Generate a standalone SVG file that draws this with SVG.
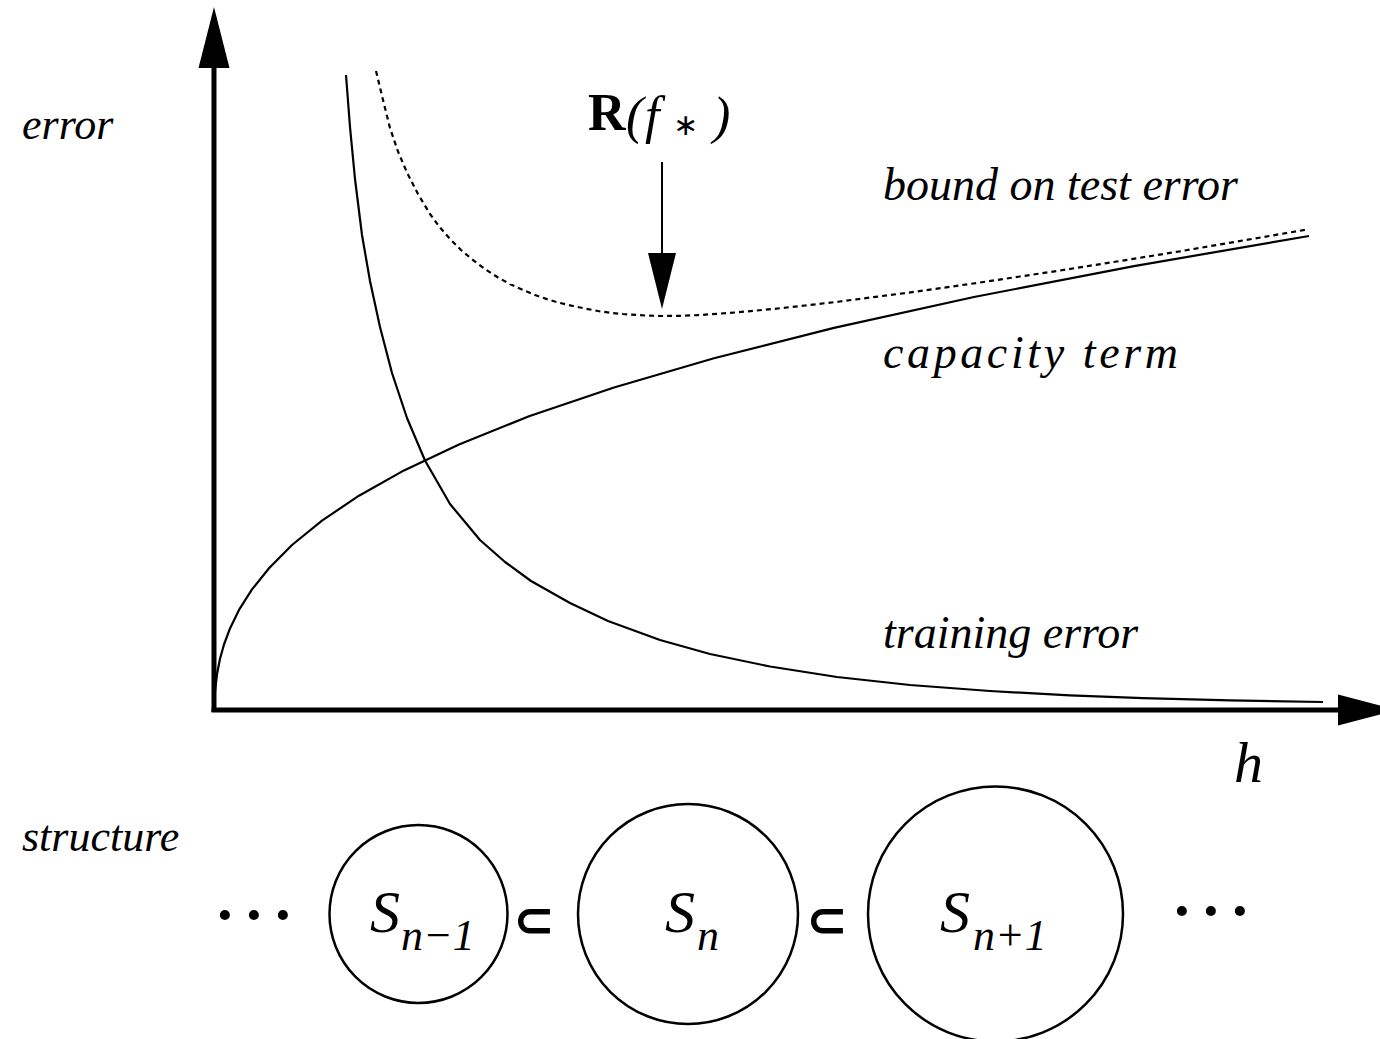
<svg xmlns="http://www.w3.org/2000/svg" width="1380" height="1039" viewBox="0 0 1380 1039">
<style>
.axis{stroke:#000;stroke-width:5;fill:none}
.head{fill:#000;stroke:none}
.curve{stroke:#000;stroke-width:2.2;fill:none;stroke-linejoin:round;stroke-linecap:butt}
.dash{stroke-dasharray:5 4}
.lbl{font-family:"Liberation Serif","Times New Roman",serif;font-style:italic;font-size:44px;fill:#000}
.lbr{font-family:"Liberation Serif","Times New Roman",serif;font-style:italic;font-size:46px;fill:#000}
.set{fill:none;stroke:#000;stroke-width:2.5}
.sym{font-family:"Liberation Serif","Times New Roman",serif;font-style:italic;fill:#000}
.op{font-family:"DejaVu Sans",sans-serif;font-weight:bold;fill:#000}
.dots{font-family:"Liberation Serif","Times New Roman",serif;font-size:85px;letter-spacing:7.75px;fill:#000}
</style>
<rect width="1380" height="1039" fill="#fff"/>
<g id="axes">
  <line class="axis" x1="214" y1="712" x2="214" y2="66"/>
  <polygon class="head" points="214,7 198.5,68 229.5,68"/>
  <line class="axis" x1="211.5" y1="710" x2="1340" y2="710"/>
  <polygon class="head" points="1338,694.5 1338,725.5 1397,710"/>
</g>
<g id="connectors">
  <path id="training-curve" class="curve" d="M346,75 L350,127 L355,179 L362,235 L370,281 L380,327 L392,373 L407,418 L425,460.5 L450,504 L480,540 L505,562 L531,581 L570,603 L608,621 L660,640 L710,654 L770,666.5 L837,677 L910,685 L990,691 L1070,695.4 L1143,698.1 L1230,700.4 L1323,702"/>
  <path id="capacity-curve" class="curve" d="M214,710 L214.4,700 L215,691.7 L217,674.3 L220,658.8 L224,644.5 L230,628.4 L239,609.9 L252,589.4 L269,568.2 L292,545 L322,520.6 L359,495.7 L404,470.4 L459,444.4 L529,416.3 L614,387.5 L714,358.3 L834,327.9 L974,297 L1134,266.1 L1309,236"/>
  <path id="bound-curve" class="curve dash" d="M376,71 L383,100 L390,128 L398,151.5 L407,172.5 L418,194 L430,214 L440,227.5 L450,239 L461,250 L473,260 L485,269 L498,277.5 L510,284 L523,290 L535,295 L548,299.5 L560,303 L573,306 L585,308.5 L598,311 L610,312.8 L623,314 L645,315.5 L662,316 L680,315.8 L700,315 L735,312.5 L773,309 L805,305.5 L840,301.5 L873,297.2 L907,292.8 L943,287.8 L980,282.5 L1020,276.5 L1060,270.5 L1120,261 L1180,251.3 L1243,240.5 L1306,229.7"/>
  <line x1="662" y1="162" x2="662" y2="255" stroke="#000" stroke-width="2"/>
  <polygon class="head" points="648,253 676,253 662,309"/>
</g>
<g id="labels">
  <text class="lbl" x="22" y="139">error</text>
  <text class="lbr" x="883" y="200">bound on test error</text>
  <text class="lbr" x="883" y="368" textLength="295" lengthAdjust="spacing">capacity term</text>
  <text class="lbr" x="883" y="648">training error</text>
  <text class="lbl" x="22" y="851">structure</text>
  <text class="sym" x="1234" y="782" font-size="58">h</text>
  <text x="588" y="130" font-family="Liberation Serif,serif" font-weight="bold" font-size="52">R</text>
  <text class="sym" x="626" y="133" font-size="52">(</text>
  <text class="sym" x="645" y="133" font-size="52">f</text>
  <text x="673" y="135" font-family="DejaVu Sans,sans-serif" font-size="30">∗</text>
  <text class="sym" x="713" y="133" font-size="52">)</text>
</g>
<g id="node-dots-left"><text class="dots" x="214.3" y="919">...</text></g>
<g id="node-s-n-minus-1">
  <circle class="set" cx="418.5" cy="914" r="89"/>
  <text class="sym" x="370" y="932" font-size="60">S</text>
  <text class="sym" x="401" y="950" font-size="44">n−1</text>
</g>
<g id="subset-1"><text class="op" x="534" y="937" font-size="50" text-anchor="middle">⊂</text></g>
<g id="node-s-n">
  <circle class="set" cx="688" cy="914" r="110"/>
  <text class="sym" x="665" y="932" font-size="60">S</text>
  <text class="sym" x="697" y="950" font-size="44">n</text>
</g>
<g id="subset-2"><text class="op" x="827" y="937" font-size="50" text-anchor="middle">⊂</text></g>
<g id="node-s-n-plus-1">
  <circle class="set" cx="995.5" cy="914" r="127.5"/>
  <text class="sym" x="940" y="932" font-size="60">S</text>
  <text class="sym" x="973" y="950" font-size="44">n+1</text>
</g>
<g id="node-dots-right"><text class="dots" x="1171.3" y="915">...</text></g>
</svg>
